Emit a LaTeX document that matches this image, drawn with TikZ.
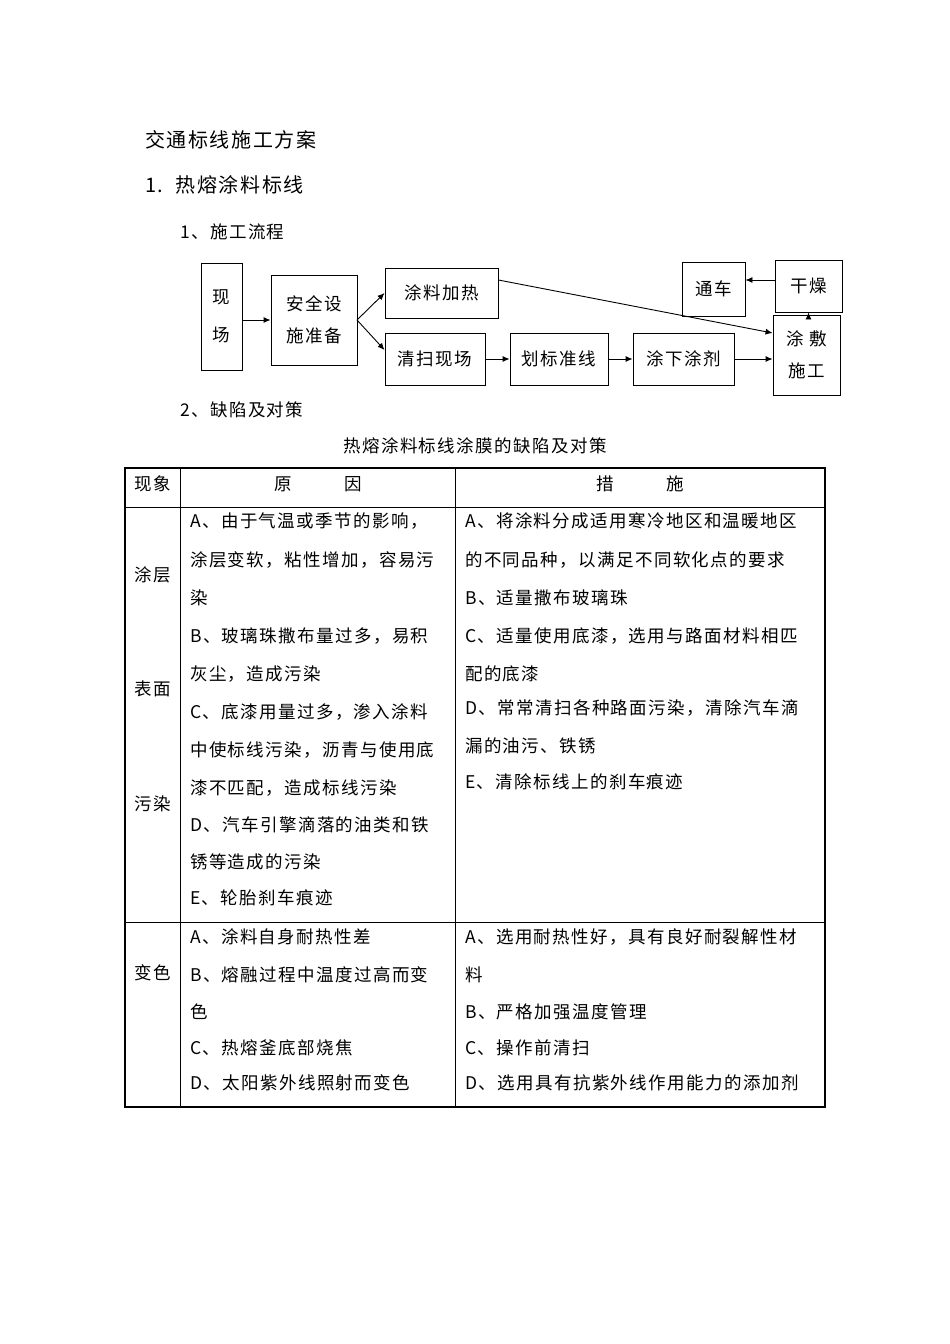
\documentclass[tikz,border=0pt]{standalone}
\usepackage{fontspec}
\setmainfont{Noto Sans CJK SC}[LetterSpace=8]
\usetikzlibrary{arrows.meta}
\begin{document}
\begin{tikzpicture}[x=1pt,y=-1pt,
  bx/.style={draw,line width=0.9pt,inner sep=0pt},
  ar/.style={-{Latex[length=7pt,width=6pt]},line width=0.9pt},
  t/.style={anchor=west,inner sep=0pt,font=\fontsize{17.5}{17}\selectfont},
  h/.style={anchor=west,inner sep=0pt,font=\fontsize{20}{20}\selectfont}]
\useasboundingbox (0,0) rectangle (950,1344);
\node[h] (title) at (145,140) {交通标线施工方案};
\node[h] (h1) at (145,185) {1.\ \ 热熔涂料标线};
\node[t] (h2) at (180,232) {1、施工流程};
\node[t] (h3) at (180,410) {2、缺陷及对策};
% flowchart
\node[bx,minimum width=41,minimum height=107,align=center,font=\fontsize{17.5}{38}\selectfont] (a) at (221.5,316.5) {现\\场};
\node[bx,minimum width=86,minimum height=90,align=center,font=\fontsize{17.5}{32}\selectfont] (b) at (314,320) {安全设\\施准备};
\node[bx,minimum width=113,minimum height=50,font=\fontsize{17.5}{17}\selectfont] (c) at (441.5,293) {涂料加热};
\node[bx,minimum width=100,minimum height=52,font=\fontsize{17.5}{17}\selectfont] (d) at (435,359) {清扫现场};
\node[bx,minimum width=98,minimum height=52,font=\fontsize{17.5}{17}\selectfont] (e) at (559,359) {划标准线};
\node[bx,minimum width=101,minimum height=52,font=\fontsize{17.5}{17}\selectfont] (f) at (683.5,359) {涂下涂剂};
\node[bx,minimum width=67,minimum height=80,align=center,font=\fontsize{17.5}{32}\selectfont] (g) at (806.5,355) {涂 敷\\施工};
\node[bx,minimum width=63,minimum height=54,font=\fontsize{17.5}{17}\selectfont] (k) at (713.5,289) {通车};
\node[bx,minimum width=67,minimum height=52,font=\fontsize{17.5}{17}\selectfont] (j) at (808.5,286) {干燥};
\coordinate (bx) at (357,320);
\draw[ar] (a.east|-bx) -- (b.west|-bx);
\draw[ar] (bx) -- (c.west|-0,293);
\draw[ar] (bx) -- (d.west|-0,350);
\draw[ar] (d) -- (e);
\draw[ar] (e) -- (f);
\draw[ar] (f.east) -- (g.west|-f.east);
\draw[ar] (c.east|-0,280) -- (g.west|-0,333);
\draw[ar] (g.north-|j) -- (j.south);
\draw[ar] (j.west|-0,280) -- (k.east|-0,280);
% table
\node[t,anchor=center] (tt) at (475,446) {热熔涂料标线涂膜的缺陷及对策};
\draw[line width=1.2pt] (125,468) rectangle (825,1107);
\draw[line width=0.9pt] (125,507) -- (825,507) (125,922) -- (825,922) (180,468) -- (180,1107) (455,468) -- (455,1107);
\node[t,anchor=center] (c1) at (153,484) {现象};
\node[t,anchor=center] (c2) at (318,484) {原\hspace{3em}因};
\node[t,anchor=center] (c3) at (640,484) {措\hspace{3em}施};
\node[t,anchor=center] (r1a) at (153,575) {涂层};
\node[t,anchor=center] (r1b) at (153,689) {表面};
\node[t,anchor=center] (r1c) at (153,804) {污染};
\node[t,anchor=center] (r2) at (153,973) {变色};
\foreach \y/\s [count=\i] in {521/{A、由于气温或季节的影响，},560/{涂层变软，粘性增加，容易污},598/{染},636/{B、玻璃珠撒布量过多，易积},674/{灰尘，造成污染},712/{C、底漆用量过多，渗入涂料},750/{中使标线污染，沥青与使用底},788/{漆不匹配，造成标线污染},825/{D、汽车引擎滴落的油类和铁},862/{锈等造成的污染},898/{E、轮胎刹车痕迹},937/{A、涂料自身耐热性差},975/{B、熔融过程中温度过高而变},1012/{色},1048/{C、热熔釜底部烧焦},1083/{D、太阳紫外线照射而变色}}
  \node[t] (L\i) at (190,\y) {\s};
\foreach \y/\s [count=\i] in {521/{A、将涂料分成适用寒冷地区和温暖地区},560/{的不同品种，以满足不同软化点的要求},598/{B、适量撒布玻璃珠},636/{C、适量使用底漆，选用与路面材料相匹},674/{配的底漆},708/{D、常常清扫各种路面污染，清除汽车滴},746/{漏的油污、铁锈},782/{E、清除标线上的刹车痕迹},937/{A、选用耐热性好，具有良好耐裂解性材},975/{料},1012/{B、严格加强温度管理},1048/{C、操作前清扫},1083/{D、选用具有抗紫外线作用能力的添加剂}}
  \node[t] (R\i) at (465,\y) {\s};
\end{tikzpicture}
\end{document}
